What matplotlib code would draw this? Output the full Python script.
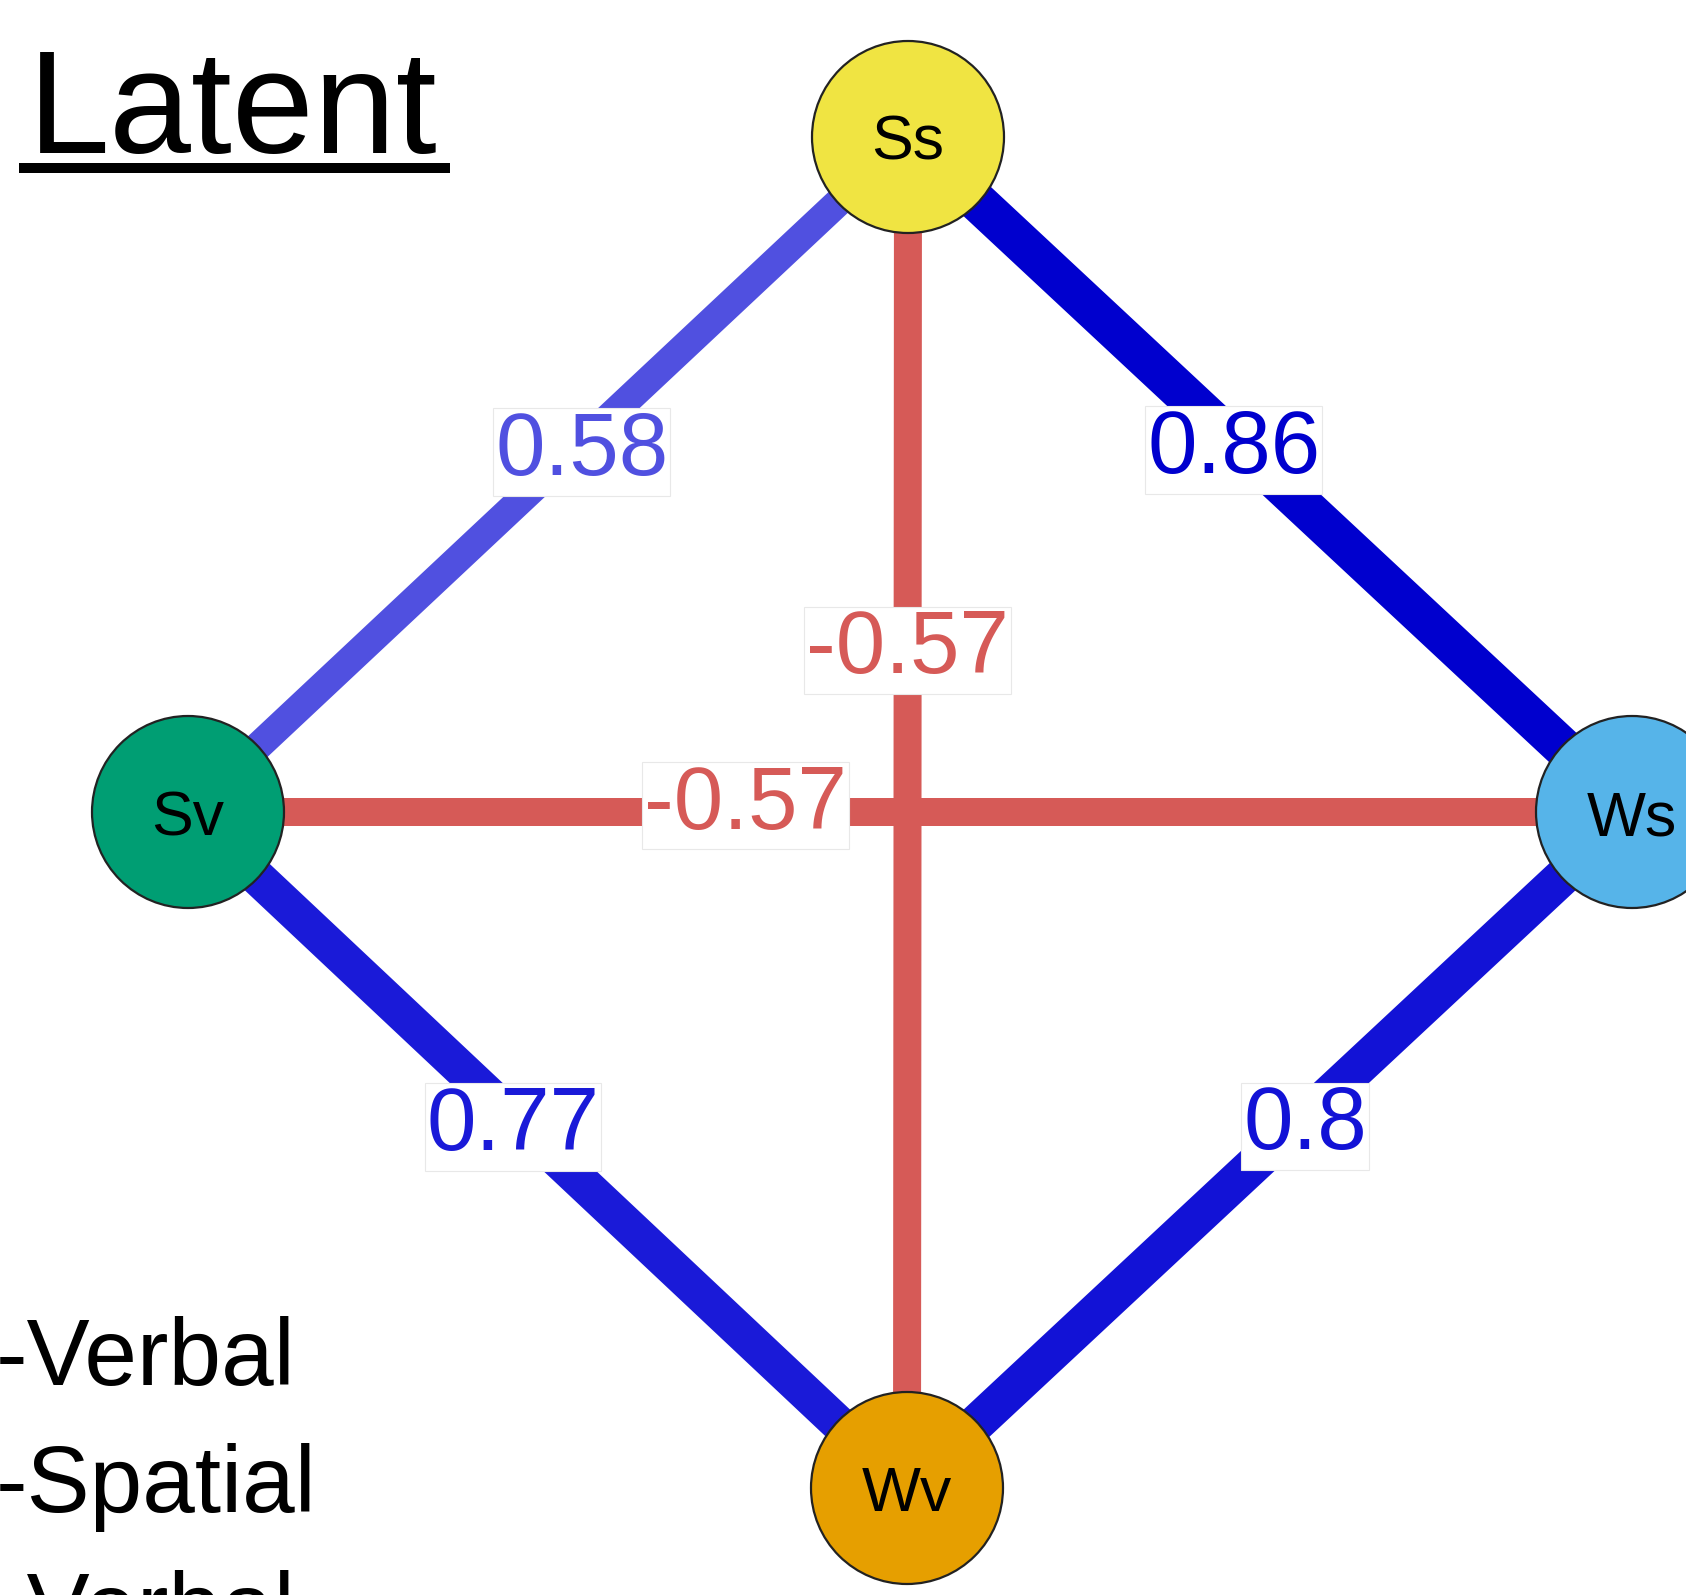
import numpy as np
import matplotlib.pyplot as plt
from matplotlib.patches import Circle

plt.rcParams['font.family'] = ['Liberation Sans', 'DejaVu Sans']

# data
nodes = ['Ss', 'Sv', 'Ws', 'Wv']
edge_from = ['Ss', 'Ss', 'Ss', 'Sv', 'Sv', 'Ws']
edge_to = ['Sv', 'Ws', 'Wv', 'Ws', 'Wv', 'Wv']
weights = [0.58, 0.86, -0.57, -0.57, 0.77, 0.8]
legend_lines = ['-Verbal', '-Spatial', '-Verbal']
title = 'Latent'

# layout (pixel coords of the canvas)
W, H = 1686, 1595
pos = {'Ss': (908, 137), 'Sv': (188, 812), 'Ws': (1632, 812), 'Wv': (907, 1488)}
node_col = {'Ss': '#F0E442', 'Sv': '#009E73', 'Ws': '#56B4E9', 'Wv': '#E69F00'}
edge_col = ['#5050E0', '#0000CE', '#D65A57', '#D65A57', '#1A1AD8', '#1212D6']
label_frac = [0.453, 0.45, 0.373, 0.386, 0.452, 0.451]
label_dy = [0, 0, 0, -16, 0, 0]
radius = 96
px = 72 / 100  # points per pixel

fig = plt.figure(figsize=(W / 100, H / 100), dpi=100)
ax = fig.add_axes([0, 0, 1, 1])
ax.set_xlim(0, W)
ax.set_ylim(H, 0)
ax.axis('off')

for a, b, w, c, f, dy in zip(edge_from, edge_to, weights, edge_col, label_frac, label_dy):
    (x0, y0), (x1, y1) = pos[a], pos[b]
    lw = 28 + (abs(w) - 0.57) / (0.86 - 0.57) * 12
    ax.plot([x0, x1], [y0, y1], color=c, lw=lw * px, solid_capstyle='butt', zorder=1)
    lx, ly = x0 + f * (x1 - x0), y0 + f * (y1 - y0) + dy
    ax.text(lx, ly, f'{w:g}', color=c, fontsize=64, ha='center', va='center_baseline',
            zorder=3, bbox=dict(boxstyle='square,pad=0.02', fc='white', ec='#e8e8e8', lw=0.8))

for n in nodes:
    ax.add_patch(Circle(pos[n], radius, fc=node_col[n], ec='#222222', lw=1.6, zorder=4))
    ax.text(pos[n][0], pos[n][1], n, fontsize=45, ha='center', va='center_baseline', zorder=5)

ax.text(28, 153, title, fontsize=106, ha='left', va='baseline')
ax.plot([19, 450], [168, 168], color='black', lw=10 * px, solid_capstyle='butt')

for i, s in enumerate(legend_lines):
    ax.text(-4, 1385 + i * 127, s, fontsize=68, ha='left', va='baseline')

fig.savefig('out.png', dpi=100)
plt.close()
